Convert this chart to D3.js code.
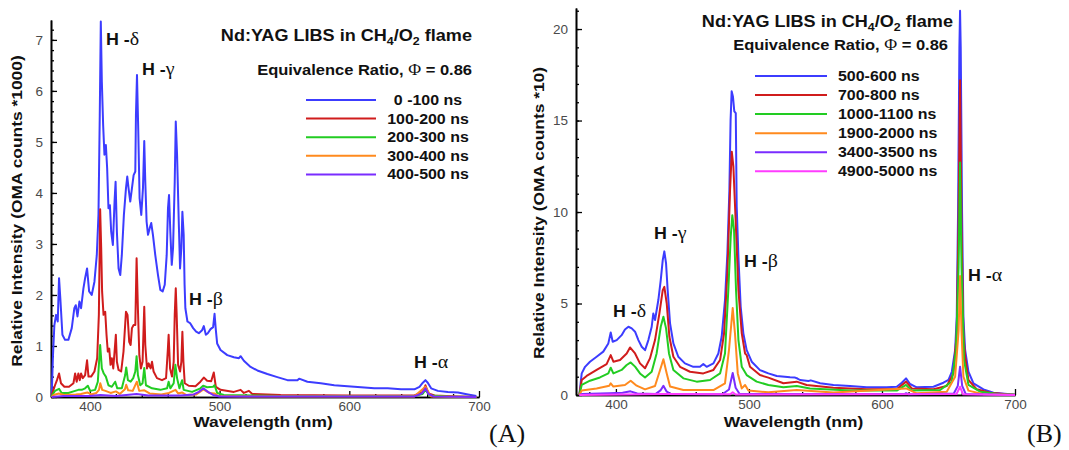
<!DOCTYPE html>
<html>
<head>
<meta charset="utf-8">
<script src="https://cdn.jsdelivr.net/npm/d3@7.9.0/dist/d3.min.js"></script>
<style>
  body { margin: 0; background: #fff; }
  svg { display: block; }
</style>
</head>
<body>
<svg id="chart" width="1069" height="450"></svg>
<script>
// ---- data: [wavelength nm, intensity] ----
const xTicks = [400, 500, 600, 700];
const yTicksA = [0, 1, 2, 3, 4, 5, 6, 7];
const yTicksB = [0, 5, 10, 15, 20];

const labelsA = ["0 -100 ns", "100-200 ns", "200-300 ns", "300-400 ns", "400-500 ns"];
const labelsB = ["500-600 ns", "700-800 ns", "1000-1100 ns", "1900-2000 ns", "3400-3500 ns", "4900-5000 ns"];
const colorsA = ["#3c3cff", "#d01c1c", "#22cc22", "#ff8a1e", "#7a2cff"];
const colorsB = ["#3c3cff", "#d01c1c", "#22cc22", "#ff8a1e", "#7a2cff", "#ff3cff"];

const a0to100 = [[370.5,0],[371.5,0.8],[372.6,1.41],[373.9,1.61],[375.2,1.48],[376.2,2.33],[377.2,1.93],[378.8,1.22],[380.8,1.12],[383.4,1.12],[386,1.35],[388,1.74],[389.1,1.8],[390.4,1.58],[391.9,1.87],[393.2,1.74],[395,2.13],[396.3,2.33],[397.8,2.52],[399.4,2.07],[401.4,2.0],[403.5,2.26],[405.3,2.78],[406.6,3.57],[407.6,5.53],[408.4,7.36],[409.2,6.18],[410.2,5.33],[411.2,4.75],[412.3,4.94],[413.3,4.48],[414.3,3.7],[415.4,3.76],[416.4,3.24],[417.7,2.98],[419,3.83],[419.8,4.22],[420.8,3.24],[422.1,2.52],[423.4,2.39],[424.6,2.78],[426.2,3.57],[427.8,4.09],[428.8,4.32],[429.8,4.09],[431.1,3.83],[432.4,4.09],[433.7,4.35],[435,4.42],[435.5,5.53],[436.3,6.31],[437.3,5.2],[438.3,3.9],[439.6,3.57],[440.9,4.09],[441.9,5.02],[442.7,4.22],[443.7,3.44],[444.8,3.18],[446.1,3.31],[447.3,3.41],[448.6,3.18],[450.4,2.78],[452.5,2.39],[454.3,2.1],[456.1,2.07],[457.7,2.2],[459.2,2.78],[460.2,3.7],[461,3.96],[462,3.24],[463.1,2.59],[464.1,2.92],[465.4,4.22],[466.2,5.4],[467.2,4.75],[468.5,3.44],[469.5,2.52],[470.5,2.92],[471.3,3.63],[472.3,3.18],[473,2.2],[473.6,1.74],[475.2,1.48],[477.2,1.45],[479.6,1.35],[481.9,1.28],[484,1.25],[486.5,1.31],[487.8,1.39],[489.4,1.22],[490.9,1.25],[493,1.33],[495,1.37],[496.1,1.63],[497.1,1.31],[498.1,1.05],[500.7,0.92],[505.9,0.82],[511,0.78],[514.9,0.76],[516.2,0.8],[518.7,0.71],[523.9,0.59],[529.1,0.52],[536.8,0.45],[544.5,0.39],[552.3,0.33],[560,0.33],[561.3,0.36],[567.7,0.3],[578,0.27],[588.4,0.23],[598.7,0.21],[609,0.19],[619.3,0.17],[629.6,0.17],[639.9,0.15],[650.2,0.15],[654.1,0.2],[656.7,0.28],[658.7,0.33],[660.5,0.28],[663.1,0.17],[668.3,0.12],[676,0.1],[683.8,0.09],[691.5,0.05],[698,0.02]];
const a100to200 = [[370.5,0],[371,0.07],[373.1,0.23],[374.6,0.33],[376.2,0.46],[377.7,0.27],[380.3,0.2],[383.9,0.2],[387.3,0.27],[388.6,0.46],[389.8,0.3],[391.1,0.46],[392.2,0.33],[393.2,0.46],[394.5,0.37],[396.3,0.43],[397.8,0.72],[398.9,0.4],[400.9,0.4],[403.5,0.5],[405.6,0.76],[406.9,1.61],[407.9,3.68],[408.7,2.92],[409.4,2.07],[410.5,1.61],[411.8,1.67],[412.8,1.22],[413.8,0.89],[414.9,0.95],[415.9,0.63],[416.9,0.76],[418,0.56],[419.2,0.95],[420,1.22],[420.8,0.69],[422.1,0.53],[424.1,0.5],[425.9,0.89],[427.8,1.67],[429,1.61],[430.3,1.08],[431.4,1.02],[432.4,1.35],[433.7,1.41],[435,1.41],[436,2.72],[437,1.74],[438.1,0.82],[439.3,0.56],[440.6,0.69],[441.9,1.77],[442.7,1.02],[444,0.56],[445.3,0.66],[446.8,0.56],[447.9,0.69],[449.1,0.5],[451.7,0.37],[455.6,0.33],[458.7,0.37],[460,0.89],[460.7,1.22],[461.8,0.56],[463.3,0.4],[464.6,0.69],[465.4,1.61],[466.2,2.13],[466.9,1.61],[468,0.63],[469.5,0.5],[470.5,0.69],[471.3,1.28],[472.1,0.69],[473.1,0.27],[476.2,0.22],[481.4,0.21],[485.2,0.3],[487.8,0.38],[490.4,0.32],[493.5,0.31],[495.5,0.48],[497.1,0.2],[500.7,0.14],[511,0.1],[516.2,0.14],[518.7,0.08],[522.6,0.12],[525.2,0.06],[547.1,0.04],[598.7,0.03],[650.2,0.03],[656.7,0.1],[658.7,0.23],[661,0.07],[665.7,0.03],[683.8,0.01],[698,0]];
const a200to300 = [[370.5,0],[371,0.04],[373.1,0.12],[376.2,0.16],[378.2,0.08],[383.4,0.08],[388.6,0.12],[391.1,0.14],[393.7,0.14],[396.3,0.17],[398.4,0.22],[400.2,0.12],[404,0.14],[406.1,0.3],[407.9,1.02],[409.2,0.56],[410.7,0.46],[412.3,0.4],[414.3,0.23],[416.9,0.2],[419.5,0.3],[421.1,0.17],[424.6,0.17],[427.2,0.43],[428,0.58],[429.3,0.33],[431.4,0.3],[433.4,0.37],[435,0.5],[436,0.8],[437,0.43],[438.8,0.23],[440.6,0.27],[441.9,0.57],[443.2,0.23],[447.9,0.17],[454.3,0.14],[459.5,0.17],[460.7,0.3],[462,0.17],[464.6,0.27],[465.9,0.63],[467.2,0.37],[469,0.17],[471.1,0.33],[472.3,0.14],[478.8,0.1],[485.2,0.17],[487.3,0.22],[490.4,0.19],[495,0.2],[496.1,0.23],[498.1,0.08],[503.3,0.04],[547.1,0.02],[650.2,0.02],[656.5,0.06],[658.7,0.14],[661.8,0.03],[676,0.01],[698,0]];
const a300to400 = [[370.5,0],[372,0.04],[376,0.07],[380,0.04],[389,0.05],[393,0.06],[398,0.09],[401,0.05],[405,0.08],[407,0.14],[408,0.27],[409.5,0.14],[412,0.12],[416,0.08],[420,0.11],[423,0.06],[427,0.15],[428,0.24],[429.5,0.13],[433,0.12],[436.2,0.3],[438,0.12],[442,0.13],[446,0.07],[455,0.05],[461,0.08],[466,0.14],[468,0.07],[471,0.09],[474,0.04],[482,0.05],[487.5,0.15],[492,0.08],[496,0.07],[499,0.02],[520,0.01],[650,0.01],[658.7,0.2],[663,0.01],[698,0]];
const a400to500 = [[370.5,0],[380,0.02],[400,0.02],[408,0.04],[420,0.02],[436,0.06],[445,0.03],[470,0.03],[480,0.05],[484,0.1],[487.5,0.17],[491,0.1],[495,0.04],[500,0.01],[650,0.01],[656,0.07],[658.7,0.17],[661,0.06],[665,0.01],[698,0]];

const b500to600 = [[372.5,0],[374.3,1.18],[376.8,1.54],[380.5,1.82],[385.5,2.09],[390.5,2.37],[394.3,2.82],[396.1,3.42],[397.6,2.91],[400.6,3.0],[404.3,3.27],[406.8,3.58],[409.4,3.73],[411.9,3.64],[414.4,3.46],[416.9,3.0],[419.4,2.64],[421.9,2.45],[424.4,3.0],[426.9,3.73],[428.1,4.45],[429.4,4.1],[431.9,5.19],[433.7,6.28],[435.2,7.37],[436.4,7.85],[437.7,7.19],[438.9,5.73],[440.7,3.91],[443.2,2.82],[446.9,2.09],[451.9,1.73],[458.2,1.54],[463.2,1.54],[465.7,1.69],[468.2,1.54],[473.3,1.73],[477,2.27],[479.5,3.18],[482,5.19],[483.8,7.74],[485.3,11.2],[486.2,15.0],[487,16.6],[488,16.3],[489,15.5],[490.1,15.4],[490.8,10.3],[492.1,7.55],[493.8,4.82],[495.8,3.37],[498.3,2.45],[502.1,1.82],[508.3,1.36],[514.6,1.18],[520.9,1.04],[530.9,0.97],[534.7,0.95],[536.5,0.9],[538.4,0.82],[544.7,0.77],[546.5,0.8],[553.5,0.64],[563.5,0.55],[576,0.49],[588.5,0.42],[603.6,0.42],[611.1,0.45],[614.9,0.67],[618.1,0.91],[621.1,0.6],[626.1,0.42],[638.7,0.45],[646.2,0.67],[650,0.82],[652.5,1.27],[655,2.46],[656.2,4.28],[657.2,10],[658.2,19],[658.7,21],[659.2,19],[660.2,10],[661.2,4.3],[662.5,2.46],[665,1.27],[668.8,0.64],[676.3,0.31],[683.8,0.13],[696.3,0.04],[700,0.02]];
const b700to800 = [[372.5,0],[374.3,0.82],[378,1.04],[385.5,1.37],[393,1.69],[396.1,2.18],[398.1,1.82],[403.1,1.91],[408.1,2.27],[410.6,2.6],[414.4,2.27],[418.1,1.73],[421.9,1.46],[425.6,2.0],[429.4,3.0],[432.7,4.46],[435.2,5.73],[436.4,5.91],[438.2,5.0],[440.2,3.18],[443.2,2.09],[448.2,1.54],[455.7,1.27],[465.7,1.18],[473.3,1.37],[478.3,1.91],[481.3,3.37],[483.8,6.64],[485.8,11.2],[487.1,13.3],[488.3,12.5],[490.1,9.38],[492.1,5.73],[494.6,3.37],[497.1,2.27],[498.3,2.18],[500.8,1.54],[508.3,1.09],[514.6,0.95],[525.9,0.64],[535.9,0.73],[543.4,0.55],[563.5,0.4],[588.5,0.31],[611.1,0.31],[618.1,0.73],[622.4,0.36],[638.7,0.31],[648.7,0.49],[653.7,1.18],[656.2,3.37],[657.5,9],[658.7,17.2],[659.8,9],[661.2,3.3],[662.5,2.1],[665,0.82],[671.3,0.31],[681.3,0.13],[693.8,0.04],[700,0.02]];
const b1000to1100 = [[372.5,0],[374.3,0.55],[380.5,0.78],[388,0.96],[394.3,1.18],[396.1,1.49],[398.1,1.18],[404.3,1.37],[408.1,1.64],[411.1,1.78],[414.4,1.55],[418.1,1.18],[421.9,0.96],[426.9,1.27],[430.6,2.27],[433.7,3.73],[435.7,4.28],[437.7,3.64],[439.9,2.27],[443.2,1.37],[450.7,0.91],[460.7,0.73],[470.8,0.82],[478.3,1.18],[482,2.27],[484.5,5.73],[486.3,8.65],[487.5,9.83],[488.8,9.01],[490.3,5.73],[492.1,3.0],[494.6,1.55],[498.3,1.09],[505.8,0.73],[514.6,0.55],[525.9,0.42],[535.9,0.49],[545.9,0.35],[576,0.24],[611.1,0.24],[618.1,0.55],[622.4,0.24],[643.7,0.27],[652.5,0.73],[655.7,2.46],[657.6,7],[658.7,12.7],[659.8,7],[661.7,1.91],[665,0.55],[673.8,0.18],[688.8,0.04],[700,0.01]];
const b1900to2000 = [[372.5,0],[374.3,0.24],[385.5,0.36],[395,0.51],[396.1,0.64],[398.1,0.46],[406.8,0.55],[411.1,0.78],[415.6,0.51],[421.9,0.31],[429.4,0.49],[433.2,1.37],[435.7,1.95],[438.2,1.18],[440.7,0.46],[450.7,0.27],[473.3,0.27],[482,0.64],[485,2.46],[487.8,4.75],[489.5,3.37],[491.6,1.18],[494.6,0.36],[497.1,0.55],[499.6,0.24],[514.6,0.15],[535.9,0.27],[563.5,0.13],[618.1,0.36],[626.1,0.09],[648.7,0.18],[655,1.0],[657.6,3.5],[658.7,6.5],[659.8,3.5],[661.2,1.0],[665,0.24],[676.3,0.04],[700,0]];
const b3400to3500 = [[372.5,0],[374.3,0.05],[395,0.1],[405,0.12],[411,0.2],[416,0.08],[430,0.06],[433.5,0.25],[435.7,0.5],[438,0.2],[441,0.06],[480,0.04],[485,0.3],[487.8,1.2],[490,0.4],[493,0.05],[617,0.05],[618.1,0.1],[620,0.04],[654,0.08],[657,0.5],[658.7,1.55],[660.3,0.5],[663,0.05],[700,0]];
const b4900to5000 = [[372.5,0],[436,0.05],[486,0.04],[487.8,0.15],[490,0.03],[656,0.05],[658.7,0.45],[661,0.04],[700,0]];

const seriesA = [a0to100, a100to200, a200to300, a300to400, a400to500];
const seriesB = [b500to600, b700to800, b1000to1100, b1900to2000, b3400to3500, b4900to5000];

// ---- drawing ----
const svg = d3.select("#chart");
const SANS = "'Liberation Sans', Arial, Helvetica, sans-serif";
const SERIF = "'Liberation Serif', 'Times New Roman', serif";

// text stretched horizontally a bit, the source font is wide
function addText(x, y, parts, opt) {
  const g = svg.append("g").attr("transform", `translate(${x},${y})`);
  const t = g.append("text")
    .attr("transform", `scale(${opt.stretch || 1},1)`)
    .attr("text-anchor", opt.anchor || "start")
    .attr("font-family", SANS)
    .attr("font-weight", opt.weight || "bold")
    .attr("font-size", opt.size)
    .attr("fill", opt.fill || "#111");
  if (opt.rotate) g.attr("transform", `translate(${x},${y}) rotate(${opt.rotate})`);
  parts.forEach((p) => {
    const s = t.append("tspan").text(p.t);
    if (p.serif) s.attr("font-family", SERIF).attr("font-weight", "normal");
    if (p.size) s.attr("font-size", p.size);
    if (p.dy) s.attr("dy", p.dy);
  });
  return g;
}

function titleParts() {
  return [
    { t: "Nd:YAG LIBS in CH" },
    { t: "4", size: 11, dy: 4 },
    { t: "/O", dy: -4 },
    { t: "2", size: 11, dy: 4 },
    { t: " flame", dy: -4 },
  ];
}

function hLabel(x, y, greek) {
  addText(x, y, [{ t: "H -" }, { t: greek, serif: true, size: 19 }], { size: 17, stretch: 1.05 });
}

function drawPanel(cfg) {
  const x = d3.scaleLinear().domain([370, 700]).range([cfg.left, cfg.right]);
  const y = d3.scaleLinear().domain([0, cfg.yMax]).range([cfg.bottom, cfg.top]);
  const g = svg.append("g");

  const minorX = d3.range(380, 701, 20).filter((d) => d % 100 !== 0);
  const minorY = d3.range(0, cfg.yMax, cfg.yMinor);

  g.append("g")
    .attr("transform", `translate(0,${cfg.bottom})`)
    .call(d3.axisBottom(x).tickValues(minorX).tickSize(-3).tickSizeOuter(0).tickFormat(""));
  g.append("g")
    .attr("transform", `translate(${cfg.left},0)`)
    .call(d3.axisLeft(y).tickValues(minorY).tickSize(-3).tickSizeOuter(0).tickFormat(""));

  const xa = g.append("g")
    .attr("transform", `translate(0,${cfg.bottom})`)
    .call(d3.axisBottom(x).tickValues(xTicks).tickSize(-6).tickSizeOuter(0).tickPadding(4));
  const ya = g.append("g")
    .attr("transform", `translate(${cfg.left},0)`)
    .call(d3.axisLeft(y).tickValues(cfg.yTicks).tickSize(-6).tickSizeOuter(0).tickPadding(8));

  g.selectAll(".domain").attr("stroke", "#000").attr("stroke-width", 1.6);
  g.selectAll(".tick line").attr("stroke", "#000").attr("stroke-width", 1.3);
  [xa, ya].forEach((a) =>
    a.selectAll("text")
      .attr("font-family", SANS)
      .attr("font-size", 13.5)
      .attr("fill", "#4a4a4a")
  );

  const line = d3.line().x((d) => x(d[0])).y((d) => y(d[1]));
  g.append("g")
    .selectAll("path")
    .data(cfg.series)
    .join("path")
    .attr("d", line)
    .attr("fill", "none")
    .attr("stroke", (d, i) => cfg.colors[i])
    .attr("stroke-width", 2)
    .attr("stroke-linejoin", "round");

  // legend
  const lg = g.append("g");
  cfg.labels.forEach((lab, i) => {
    const ly = cfg.legY + i * cfg.legStep;
    lg.append("line")
      .attr("x1", cfg.legX1).attr("x2", cfg.legX2)
      .attr("y1", ly).attr("y2", ly)
      .attr("stroke", cfg.colors[i]).attr("stroke-width", 2);
    addText(cfg.legTextX, ly + 5, [{ t: lab }], { size: 14, stretch: 1.14, anchor: cfg.legAnchor });
  });

  // axis titles
  addText((cfg.left + cfg.right) / 2 - 2, 427, [{ t: "Wavelength (nm)" }], { size: 15, stretch: 1.16, anchor: "middle" });
  addText(cfg.left - cfg.yLabelGap, cfg.yLabelMid, [{ t: cfg.yLabel }], { size: 15, stretch: 1.16, anchor: "middle", rotate: -90 });
}

drawPanel({
  left: 51, right: 479, bottom: 397, top: 20, yMax: 7.39, yMinor: 0.2,
  yTicks: yTicksA, series: seriesA, colors: colorsA, labels: labelsA,
  legY: 100, legStep: 18.6, legX1: 306, legX2: 376, legTextX: 428, legAnchor: "middle",
  yLabel: "Relative Intensity (OMA counts *1000)", yLabelMid: 211, yLabelGap: 29,
});

drawPanel({
  left: 576, right: 1015, bottom: 395, top: 8, yMax: 21.15, yMinor: 1,
  yTicks: yTicksB, series: seriesB, colors: colorsB, labels: labelsB,
  legY: 76, legStep: 19.05, legX1: 755, legX2: 827, legTextX: 838, legAnchor: "start",
  yLabel: "Relative Intensity (OMA counts *10)", yLabelMid: 213, yLabelGap: 32,
});

// titles
addText(472, 41, titleParts(), { size: 16, stretch: 1.13, anchor: "end" });
addText(472, 75, [{ t: "Equivalence Ratio, " }, { t: "\u03A6", serif: true, size: 16 }, { t: " = 0.86" }], { size: 15, stretch: 1.1, anchor: "end" });
addText(953, 27, titleParts(), { size: 16, stretch: 1.13, anchor: "end" });
addText(948, 50, [{ t: "Equivalence Ratio, " }, { t: "\u03A6", serif: true, size: 16 }, { t: " = 0.86" }], { size: 15, stretch: 1.1, anchor: "end" });

// line annotations
hLabel(106, 45, "\u03B4");
hLabel(142, 75, "\u03B3");
hLabel(189, 305, "\u03B2");
hLabel(414, 368, "\u03B1");
hLabel(613, 317, "\u03B4");
hLabel(654, 239, "\u03B3");
hLabel(744, 267, "\u03B2");
hLabel(968, 281, "\u03B1");

// panel letters
svg.append("text").attr("x", 489).attr("y", 442).attr("font-family", SERIF).attr("font-size", 26).attr("fill", "#111").text("(A)");
svg.append("text").attr("x", 1027).attr("y", 442).attr("font-family", SERIF).attr("font-size", 26).attr("fill", "#111").text("(B)");
</script>
</body>
</html>
